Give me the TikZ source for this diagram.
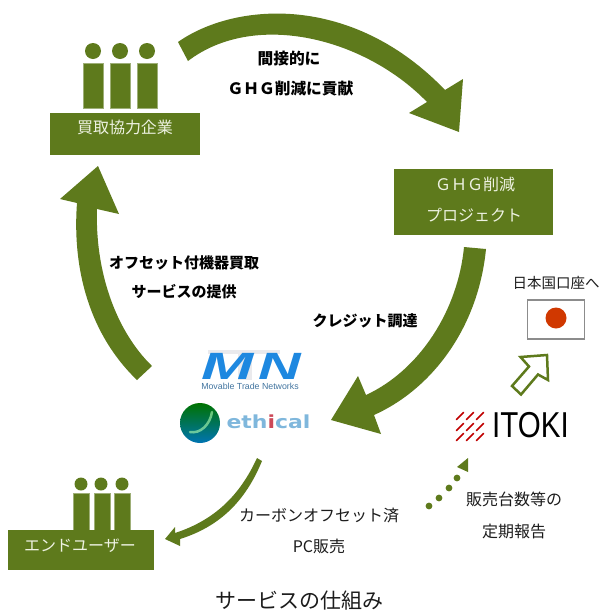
\documentclass[tikz,border=0pt]{standalone}
\usepackage{fontspec}
\setmainfont{Noto Sans CJK JP}
\newfontfamily\lat{Liberation Sans}
\newfontfamily\dej{DejaVu Sans}
\definecolor{leaf}{HTML}{5E7A1C}
\definecolor{pale}{HTML}{EEF2E2}
\definecolor{ink}{HTML}{1C1C1C}
\newcommand{\fs}[1]{\fontsize{#1}{#1}\selectfont}
\tikzset{
  blob/.style={fill=leaf,draw=none},
  body/.style={fill=leaf,draw=leaf!60!white,line width=0.6pt},
  lab/.style={text=ink,inner sep=0pt,font=\fs{16}},
  blab/.style={text=black,inner sep=0pt,font=\fs{15}\bfseries},
  wlab/.style={text=pale,inner sep=0pt,font=\fs{16}},
  panel/.style={fill=leaf,draw=none,inner sep=0pt,minimum width=0pt},
  hatchmark/.style={draw=red!75!black,line width=1.7pt,line cap=round}
}
\begin{document}
\begin{tikzpicture}[x=1pt,y=-1pt]
\useasboundingbox (0,0) rectangle (600,611);
% top arrow
\fill[blob] (178,42) .. controls (235,2) and (352,-7) .. (445,90) -- (463,79) -- (459,132) -- (409,113) -- (427,102) .. controls (365,38) and (255,10) .. (188,61) -- cycle;
% right arrow
\fill[blob] (486,249) .. controls (478,330) and (430,390) .. (374,415) -- (381,434) -- (331,420) -- (358,376) -- (366,395) .. controls (420,370) and (458,310) .. (464,247) -- cycle;
% left arrow
\fill[blob] (137,380) .. controls (90,335) and (72,270) .. (77,203) -- (60,199) -- (98,166) -- (119,214) -- (97,209) .. controls (95,270) and (115,330) .. (152,366) -- cycle;
% bottom arrow
\fill[blob] (257,458) .. controls (240,495) and (215,520) .. (175,533) -- (175,527) -- (165,539) -- (180,546) -- (180,539) .. controls (225,525) and (248,495) .. (262,461) -- cycle;
% buyer
\foreach \x/\c in {83/93,110/120,137/147}{
  \fill[blob] (\c,51) circle (8);
  \draw[body] (\x,63) rectangle (\x+20.5,108);
}
\fill[panel] (50,113) rectangle (200,155);
\node[wlab] (buyer) at (125,127) {買取協力企業};
% project
\fill[panel] (394,169) rectangle (553,235);
\node[wlab] (proj1) at (475,184) {ＧＨＧ削減};
\node[wlab] (proj2) at (474,215) {プロジェクト};
% end user
\foreach \x/\c in {73/81,94/101,114/122}{
  \fill[blob] (\c,484) circle (6.5);
  \draw[body] (\x,493) rectangle (\x+16.5,531);
}
\fill[panel] (8,530) rectangle (154,570);
\node[wlab] (enduser) at (80,546) {エンドユーザー};
% bold labels
\node[blab,font=\fs{15.7}\bfseries] (t1) at (289,59) {間接的に};
\node[blab,font=\fs{15.7}\bfseries] (t2) at (290.5,89) {ＧＨＧ削減に貢献};
\node[blab] (t3) at (365,321) {クレジット調達};
\node[blab] (t4) at (184,263) {オフセット付機器買取};
\node[blab] (t5) at (184,292) {サービスの提供};
% plain labels
\node[lab,font=\fs{14.5}] (t6) at (556,283) {日本国口座へ};
\node[lab] (t7) at (319,515) {カーボンオフセット済};
\node[lab] (t8) at (319,546) {PC販売};
\node[lab] (t9) at (514,499) {販売台数等の};
\node[lab] (t10) at (514,531) {定期報告};
\node[lab,font=\fs{21}] (title) at (299,601) {サービスの仕組み};
% flag
\draw[draw=black!45,fill=white,line width=1.5pt] (527.5,300) rectangle (584.5,339);
\fill[fill={rgb,255:red,208;green,56;blue,0}] (556,318) circle (10.5);
% hollow arrow
\draw[draw=leaf,fill=white,line width=2.5pt,line join=miter] (547,355) -- (520.5,357) -- (529,366.5) -- (512,386) -- (521,394.5) -- (538,374.5) -- (548,380) -- cycle;
% dotted arrow
\foreach \x/\y in {429/506,439/498,449/488,457/478}{\fill[blob] (\x,\y) circle (3.4);}
\fill[blob] (468,458) -- (457,467) -- (468,472) -- cycle;
% MTN logo
\definecolor{mtn}{HTML}{1E88E0}
\fill[blue!8!gray!15] (208,350) rectangle (280,354);
\fill[blue!8!gray!15] (238,354) rectangle (252,380);
\node[inner sep=0pt,text=mtn,font=\lat\fs{38}\bfseries\itshape,xscale=1.65] (m) at (228,366.5) {M};
\node[inner sep=0pt,text=mtn,font=\lat\fs{38}\bfseries\itshape,xscale=1.55] (n) at (280,366.5) {N};
\node[inner sep=0pt,text=mtn!60!black!80,font=\lat\fs{8.8}] (mtnsub) at (250,386) {Movable Trade Networks};
% ethical logo
\shade[top color=green!45!black,middle color=green!55!blue!75!black!90,bottom color=blue!35!cyan!70!black] (200,423) circle (20);
\draw[white!70!green,opacity=0.6,line width=2.5pt,line cap=round] (190,432) .. controls (200,434) and (210,425) .. (212,412);
\definecolor{eth}{HTML}{7FB7DC}
\node[inner sep=0pt,text=eth,font=\dej\fs{18}\bfseries,xscale=1.22,anchor=base] (eth1) at (268.5,428.5) {eth\textcolor{red!60!eth}{i}cal};
% ITOKI logo
\foreach \y in {416,427,437}{
  \foreach \x in {460,470,480}{
    \draw[hatchmark] (\x-3.5,\y+3.5) -- (\x+3.5,\y-3.5);
  }
}
\node[inner sep=0pt,text=black,font=\lat\fs{36},xscale=0.82] (itoki) at (530.5,425) {ITOKI};
\end{tikzpicture}
\end{document}
